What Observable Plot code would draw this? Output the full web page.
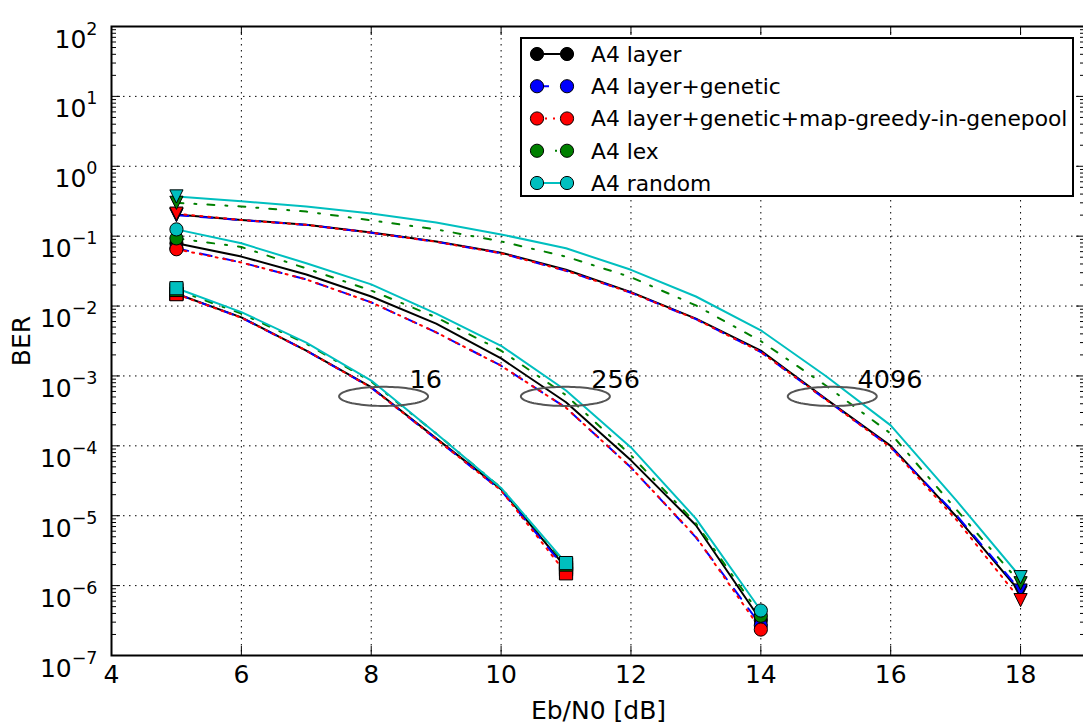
<!DOCTYPE html>
<html><head><meta charset="utf-8">
<script src="https://cdn.jsdelivr.net/npm/d3@7"></script>
<script src="https://cdn.jsdelivr.net/npm/@observablehq/plot@0.6"></script>
<style>
body{margin:0;background:white;font-family:"DejaVu Sans",sans-serif;}
#wrap{position:relative;width:1083px;height:724px;overflow:hidden;background:white;}
#legend{position:absolute;left:520px;top:37px;width:554px;height:160px;border:2px solid black;background:white;box-sizing:border-box;}
</style></head><body><div id="wrap"></div>
<script>
// ---- data ----
const seriesNames = ["A4 layer","A4 layer+genetic","A4 layer+genetic+map-greedy-in-genepool","A4 lex","A4 random"];
const seriesColors = ["#000000","#0000ff","#ff0000","#008000","#00bfbf"];
const seriesDash = [null,"12,12","2,6","7,11,2,11",null];

const snr16 = [5,6,7,8,9,10,11];
const snr256 = [5,6,7,8,9,10,11,12,13,14];
const snr4096 = [5,6,7,8,9,10,11,12,13,14,15,16,17,18];

const ber16Layer   = [0.015, 0.0069, 0.0023, 6.9e-4, 1.28e-4, 2.4e-5, 1.8e-6];
const ber16Genetic = [0.015, 0.0068, 0.0023, 6.8e-4, 1.25e-4, 2.3e-5, 1.7e-6];
const ber16Greedy  = [0.0148, 0.0068, 0.0023, 6.8e-4, 1.25e-4, 2.3e-5, 1.5e-6];
const ber16Lex     = [0.017, 0.0078, 0.0029, 8.3e-4, 1.5e-4, 2.5e-5, 2.0e-6];
const ber16Random  = [0.018, 0.0082, 0.0030, 8.6e-4, 1.5e-4, 2.5e-5, 2.1e-6];

const ber256Layer   = [0.079, 0.051, 0.0283, 0.0137, 0.0056, 0.00178, 4.2e-4, 6.2e-5, 7.3e-6, 3.2e-7];
const ber256Genetic = [0.067, 0.042, 0.024, 0.0113, 0.0042, 0.0014, 3.5e-4, 4.9e-5, 4.9e-6, 2.7e-7];
const ber256Greedy  = [0.065, 0.042, 0.024, 0.0113, 0.0042, 0.0014, 3.5e-4, 4.9e-5, 5.0e-6, 2.35e-7];
const ber256Lex     = [0.093, 0.070, 0.0345, 0.0167, 0.0069, 0.0023, 5.3e-4, 7.3e-5, 7.8e-6, 3.7e-7];
const ber256Random  = [0.125, 0.079, 0.041, 0.0204, 0.0078, 0.0027, 6.2e-4, 9.5e-5, 9.1e-6, 4.4e-7];

const ber4096Layer   = [0.204, 0.171, 0.146, 0.113, 0.084, 0.058, 0.033, 0.0158, 0.0066, 0.0023, 4.7e-4, 1.0e-4, 1.0e-5, 8.0e-7];
const ber4096Genetic = [0.200, 0.170, 0.145, 0.112, 0.083, 0.057, 0.032, 0.0155, 0.0065, 0.0022, 4.6e-4, 9.6e-5, 1.05e-5, 8.5e-7];
const ber4096Greedy  = [0.210, 0.170, 0.145, 0.112, 0.083, 0.057, 0.032, 0.0155, 0.0065, 0.0022, 4.6e-4, 9.5e-5, 9.0e-6, 6.2e-7];
const ber4096Lex     = [0.300, 0.266, 0.225, 0.168, 0.125, 0.084, 0.051, 0.0259, 0.0102, 0.00315, 7.3e-4, 1.5e-4, 1.26e-5, 1.08e-6];
const ber4096Random  = [0.370, 0.316, 0.266, 0.211, 0.157, 0.106, 0.067, 0.033, 0.0137, 0.0045, 1.0e-3, 1.96e-4, 1.7e-5, 1.32e-6];

const annoLabels = ["16","256","4096"];
const annoCenterX = [8.19, 10.99, 15.1];
const annoCenterY = [5.1e-4, 5.1e-4, 5.1e-4];
const annoTextX = [8.59, 11.39, 15.49];
const annoTextY = [8.7e-4, 8.7e-4, 8.7e-4];

const xTicks = [4,6,8,10,12,14,16,18];
const xGrid = [6,8,10,12,14,16,18];
const yTicks = [1e-7,1e-6,1e-5,1e-4,1e-3,1e-2,1e-1,1,10,100];
const yGrid = [1e-6,1e-5,1e-4,1e-3,1e-2,1e-1,1,10];
const minorMult = [2,3,4,5,6,7,8,9];

// ---- build table ----
const groups = [
  {snr: snr16, sym: "square", ber: [ber16Layer, ber16Genetic, ber16Greedy, ber16Lex, ber16Random]},
  {snr: snr256, sym: "circle", ber: [ber256Layer, ber256Genetic, ber256Greedy, ber256Lex, ber256Random]},
  {snr: snr4096, sym: "tri", ber: [ber4096Layer, ber4096Genetic, ber4096Greedy, ber4096Lex, ber4096Random]}
];
const rows = [];
groups.forEach((g, gi) => g.ber.forEach((arr, si) => arr.forEach((v, k) => rows.push({s: si, g: gi, x: g.snr[k], y: v, end: k === 0 || k === arr.length - 1}))));

const symbols = {
  square: {draw(c, size){ const r = Math.sqrt(size/Math.PI); c.rect(-r,-r,2*r,2*r); }},
  circle: {draw(c, size){ const r = Math.sqrt(size/Math.PI); c.moveTo(r,0); c.arc(0,0,r,0,2*Math.PI); }},
  tri: {draw(c, size){ const r = Math.sqrt(size/Math.PI); c.moveTo(0,r); c.lineTo(-r,-r); c.lineTo(r,-r); c.closePath(); }}
};

// ellipse outlines for annotations
const ellipsePts = [];
annoLabels.forEach((lab, i) => {
  for (let k = 0; k <= 96; k++) {
    const t = 2*Math.PI*k/96;
    ellipsePts.push({lab, x: annoCenterX[i] + 0.685*Math.cos(t), y: annoCenterY[i]*Math.pow(10, 0.137*Math.sin(t))});
  }
});
const annoText = annoLabels.map((lab,i) => ({lab, x: annoTextX[i], y: annoTextY[i]}));

const minorTicks = [];
yTicks.slice(0,-1).forEach(t => minorMult.forEach(m => minorTicks.push(t*m)));

const plotW = 1083 - 111 + 2, plotH = 724 - 26 - 69;

const marks = [
  Plot.ruleX(xGrid, {stroke: "black", strokeWidth: 1, strokeDasharray: "1.5,4.5"}),
  Plot.ruleY(yGrid, {stroke: "black", strokeWidth: 1, strokeDasharray: "1.5,4.5"})
];
seriesNames.forEach((n, si) => {
  marks.push(Plot.line(rows.filter(r => r.s === si), {x: "x", y: "y", z: "g", stroke: seriesColors[si], strokeWidth: 2, strokeDasharray: seriesDash[si] || undefined}));
});
marks.push(Plot.line(ellipsePts, {x: "x", y: "y", z: "lab", stroke: "#555555", strokeWidth: 2}));
marks.push(Plot.text(annoText, {x: "x", y: "y", text: "lab", textAnchor: "start", fontSize: 25.5, fill: "black"}));
seriesNames.forEach((n, si) => {
  groups.forEach((g, gi) => {
    marks.push(Plot.dot(rows.filter(r => r.s === si && r.g === gi && r.end), {x: "x", y: "y", r: 6.6, symbol: symbols[g.sym], fill: seriesColors[si], stroke: "black", strokeWidth: 1}));
  });
});
// inward ticks on all four sides
marks.push(
  Plot.ruleY(yTicks, {stroke: "black", strokeWidth: 1, insetRight: plotW - 9}),
  Plot.ruleY(yTicks, {stroke: "black", strokeWidth: 1, insetLeft: plotW - 9}),
  Plot.ruleY(minorTicks, {stroke: "black", strokeWidth: 1, insetRight: plotW - 5}),
  Plot.ruleY(minorTicks, {stroke: "black", strokeWidth: 1, insetLeft: plotW - 5}),
  Plot.ruleX(xTicks, {stroke: "black", strokeWidth: 1, insetTop: plotH - 9}),
  Plot.ruleX(xTicks, {stroke: "black", strokeWidth: 1, insetBottom: plotH - 9}),
  Plot.frame({stroke: "black", strokeWidth: 2}),
  Plot.axisX({ticks: xTicks, tickSize: 0, tickPadding: 10, fontSize: 25, tickFormat: d => String(d), label: "Eb/N0 [dB]", labelAnchor: "center", labelOffset: 63, labelArrow: "none"}),
  Plot.axisY({ticks: yTicks, tickSize: 0, tickPadding: 14, fontSize: 25, tickFormat: d => { const e = Math.round(Math.log10(d)); return "10^" + (e < 0 ? "\u2212" + (-e) : e); }, label: "BER", labelAnchor: "center", labelOffset: 99, labelArrow: "none"})
);

const chart = Plot.plot({
  width: 1083, height: 724,
  marginLeft: 111, marginRight: -2, marginTop: 26, marginBottom: 69,
  style: {fontFamily: "DejaVu Sans", fontSize: "25px", background: "white", color: "black", overflow: "visible"},
  x: {domain: [4, 19]},
  y: {type: "log", domain: [1e-7, 1e2]},
  marks
});
const wrap = document.getElementById("wrap");
wrap.appendChild(chart);

// superscript exponents on y tick labels
d3.select(chart).selectAll('g[aria-label="y-axis tick label"] text').each(function(){
  const s = this.textContent;
  if (s.indexOf("^") < 0) return;
  const [b, e] = s.split("^");
  const t = d3.select(this);
  t.text(b).attr("dy", "0.52em");
  t.append("tspan").attr("dy", "-13px").attr("font-size", "17.5px").text(e);
});

// legend
const legend = document.createElement("div");
legend.id = "legend";
wrap.appendChild(legend);
const lsvg = d3.select(legend).append("svg").attr("width", 550).attr("height", 156)
  .style("position", "absolute").style("left", "0px").style("top", "0px");
seriesNames.forEach((name, i) => {
  const cy = 15 + i * 32.25;
  const g = lsvg.append("g");
  const ln = g.append("line").attr("x1", 15).attr("x2", 45).attr("y1", cy).attr("y2", cy)
    .attr("stroke", seriesColors[i]).attr("stroke-width", 2);
  if (seriesDash[i]) ln.attr("stroke-dasharray", seriesDash[i]);
  [15, 45].forEach(cx => g.append("circle").attr("cx", cx).attr("cy", cy).attr("r", 6.6)
    .attr("fill", seriesColors[i]).attr("stroke", "black").attr("stroke-width", 1));
  g.append("text").attr("x", 69).attr("y", cy).attr("dy", "0.36em")
    .attr("font-family", "DejaVu Sans").attr("font-size", "21.8px").attr("fill", "black").text(name);
});
</script>
</body></html>
